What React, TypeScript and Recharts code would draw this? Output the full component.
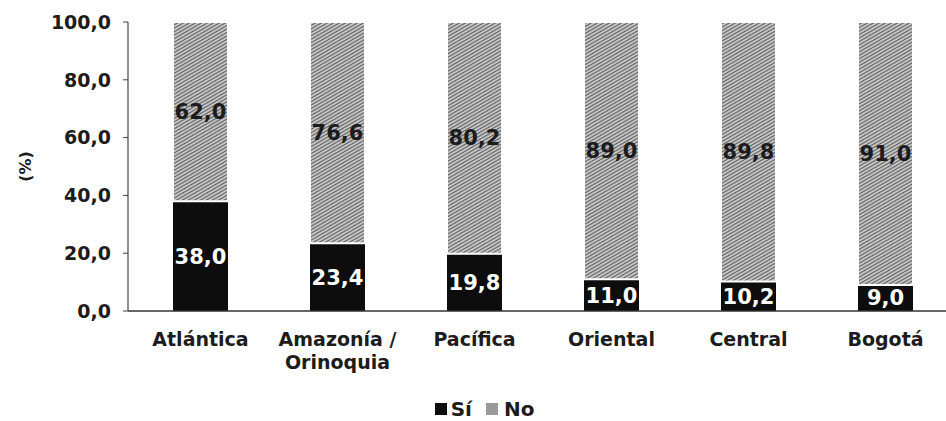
import { BarChart, Bar, XAxis, YAxis, Legend, LabelList } from 'recharts';

const regions = ['Atlántica', 'Amazonía / Orinoquia', 'Pacífica', 'Oriental', 'Central', 'Bogotá'];
const si = [38.0, 23.4, 19.8, 11.0, 10.2, 9.0];
const no = [62.0, 76.6, 80.2, 89.0, 89.8, 91.0];
const yTicks = [0, 20, 40, 60, 80, 100];

const data = regions.map((name, i) => ({ name, si: si[i], no: no[i] }));

const FONT = '"DejaVu Sans", Verdana, sans-serif';
const fmt = (v: number) => Number(v).toFixed(1).replace('.', ',');

// two-line category labels, split on the slash
const RegionTick = ({ x, y, payload }: any) => {
  const parts = String(payload.value).split(' / ');
  return (
    <text x={x} y={y} textAnchor="middle" fontFamily={FONT} fontWeight="bold" fontSize={19} fill="#1c1c1c">
      {parts.map((p, i) => (
        <tspan key={i} x={x} dy={i === 0 ? 35 : 23}>
          {i < parts.length - 1 ? p + ' /' : p}
        </tspan>
      ))}
    </text>
  );
};

const YLabel = ({ viewBox }: any) => {
  const cy = viewBox.y + viewBox.height / 2;
  return (
    <text
      x={25}
      y={cy}
      transform={`rotate(-90 25 ${cy})`}
      textAnchor="middle"
      dominantBaseline="central"
      fontFamily={FONT}
      fontWeight="bold"
      fontSize={16}
      fill="#1c1c1c"
    >
      (%)
    </text>
  );
};

const LegendContent = () => (
  <div
    style={{
      display: 'flex',
      justifyContent: 'center',
      alignItems: 'center',
      height: 24,
      paddingLeft: 15,
      fontFamily: FONT,
      fontWeight: 'bold',
      fontSize: 20,
      color: '#1c1c1c',
    }}
  >
    <span style={{ display: 'inline-block', width: 12, height: 12, background: '#0d0d0d', marginRight: 4 }} />
    <span>Sí</span>
    <span style={{ display: 'inline-block', width: 12, height: 12, background: '#9a9a9a', marginLeft: 14, marginRight: 6 }} />
    <span>No</span>
  </div>
);

export default function App() {
  return (
    <div style={{ position: 'absolute', left: 0, top: 0, width: 946, height: 421, overflow: 'hidden', background: '#fff' }}>
      <BarChart width={958} height={421} data={data} margin={{ top: 22, right: 4, bottom: 0, left: 0 }}>
        <defs>
          <pattern id="noTex" width="3" height="3" patternUnits="userSpaceOnUse" patternTransform="rotate(60)">
            <rect width="3" height="3" fill="#c8c8c8" />
            <rect width="1.1" height="3" fill="#5e5e5e" />
          </pattern>
        </defs>
        <XAxis
          dataKey="name"
          height={86}
          tickLine={false}
          tickSize={0}
          tickMargin={0}
          tick={<RegionTick />}
          interval={0}
          axisLine={{ stroke: '#333', strokeWidth: 1.5 }}
          padding={{ left: 4, right: 0 }}
        />
        <YAxis
          width={128}
          domain={[0, 100]}
          ticks={yTicks}
          interval={0}
          tickFormatter={fmt}
          tickSize={5}
          tickMargin={12}
          axisLine={{ stroke: '#444', strokeWidth: 1.2 }}
          tickLine={{ stroke: '#444' }}
          tick={{ fontFamily: FONT, fontWeight: 'bold', fontSize: 19, fill: '#1c1c1c' }}
          label={<YLabel />}
        />
        <Legend verticalAlign="bottom" height={24} content={<LegendContent />} />
        <Bar dataKey="si" stackId="a" fill="#0d0d0d" barSize={55} isAnimationActive={false}>
          <LabelList
            dataKey="si"
            position="center"
            formatter={fmt}
            style={{ fontFamily: FONT, fontWeight: 'bold', fontSize: 21, fill: '#ffffff' }}
          />
        </Bar>
        <Bar dataKey="no" stackId="a" fill="url(#noTex)" stroke="#ffffff" strokeWidth={2} barSize={55} isAnimationActive={false}>
          <LabelList
            dataKey="no"
            position="center"
            formatter={fmt}
            style={{ fontFamily: FONT, fontWeight: 'bold', fontSize: 21, fill: '#1c1c1c' }}
          />
        </Bar>
      </BarChart>
    </div>
  );
}
